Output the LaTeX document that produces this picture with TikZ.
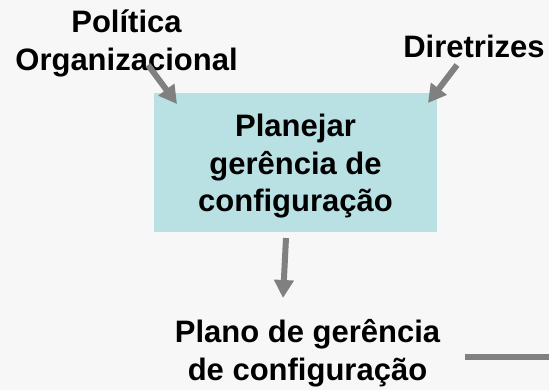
\documentclass[tikz,border=0pt]{standalone}
\usepackage{fontspec}
\setmainfont{Liberation Sans}
\usetikzlibrary{arrows.meta}
\definecolor{bg}{HTML}{F7F7F7}
\definecolor{boxfill}{HTML}{B9E0E3}
\definecolor{arr}{HTML}{808080}
\begin{document}
\begin{tikzpicture}[x=1pt,y=-1pt,
  lbl/.style={font=\fontsize{31}{38}\selectfont\bfseries, align=center, inner sep=0pt},
  conn/.style={draw=arr, line width=6pt, -{Triangle[length=18pt,width=19pt]}}]
\fill[bg] (0,0) rectangle (549,390);
\useasboundingbox (0,0) rectangle (549,390);
\node[fill=boxfill, minimum width=283pt, minimum height=139pt, inner sep=0pt] (box) at (295.5,162.5) {};
\node[lbl, font=\fontsize{31}{37.5}\selectfont\bfseries] (boxtext) at (295.5,166.5) {Planejar\\gerência de\\configuração};
\node[lbl] (pol) at (126.5,43) {Política\\Organizacional};
\node[lbl, anchor=base] (dir) at (474,58) {Diretrizes};
\node[lbl] (plano) at (307.5,353) {Plano de gerência\\de configuração};
\coordinate (a1s) at (148,65);
\coordinate (a1e) at (177,104);
\coordinate (a2s) at (457,65);
\coordinate (a2e) at (428,103);
\coordinate (a3s) at (286,238);
\coordinate (a3e) at (283,298);
\coordinate (out) at (549,357);
\draw[conn] (a1s) -- (a1e);
\draw[conn] (a2s) -- (a2e);
\draw[conn] (a3s) -- (a3e);
\draw[draw=arr, line width=5.5pt] (plano.east |- out) ++(25,0) coordinate (outs) -- (out);
\end{tikzpicture}
\end{document}
